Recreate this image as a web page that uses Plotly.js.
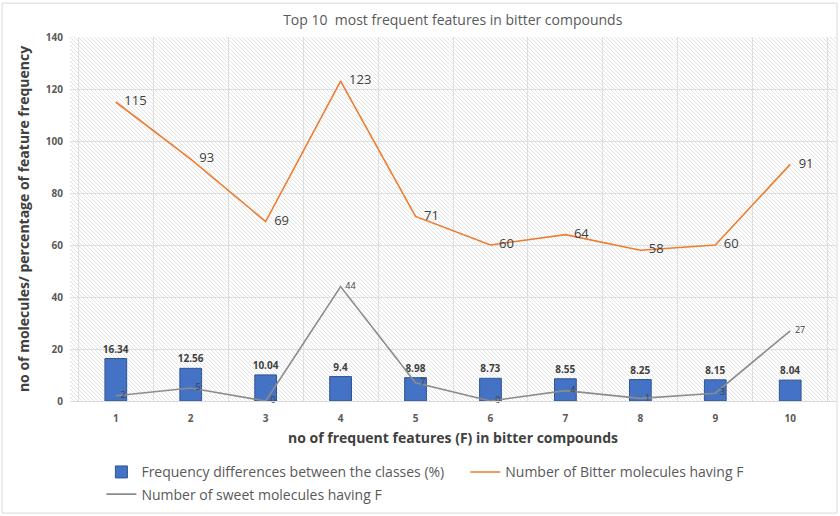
<!DOCTYPE html>
<html>
<head>
<meta charset="utf-8">
<script src="https://cdn.plot.ly/plotly-3.0.1.min.js"></script>
<style>
  body { margin: 0; background: #fff; }
  #chart { width: 840px; height: 516px; }
</style>
</head>
<body>
<div id="chart"></div>
<script>
// values
var features = ['1', '2', '3', '4', '5', '6', '7', '8', '9', '10'];
var freqDiff = [16.34, 12.56, 10.04, 9.4, 8.98, 8.73, 8.55, 8.25, 8.15, 8.04];
var bitterCount = [115, 93, 69, 123, 71, 60, 64, 58, 60, 91];
var sweetCount = [2, 5, 0, 44, 7, 0, 4, 1, 3, 27];
var yTicks = [0, 20, 40, 60, 80, 100, 120, 140];

var FONT = '"Open Sans", "Liberation Sans", sans-serif';

// hatched plot background, like the Excel pattern fill
var hatch = '<svg xmlns="http://www.w3.org/2000/svg" width="766" height="364">' +
  '<defs><pattern id="p" width="4" height="4" patternUnits="userSpaceOnUse">' +
  '<rect width="4" height="4" fill="#ffffff"/>' +
  '<path d="M-1,3 l2,2 M0,0 l4,4 M3,-1 l2,2" stroke="#e3e3e3" stroke-width="1"/>' +
  '</pattern></defs><rect width="766" height="364" fill="url(#p)"/></svg>';
var hatchUrl = 'data:image/svg+xml;base64,' + btoa(hatch);

var legendFont = { family: FONT, size: 14, color: '#595959' };

var data = [
  {
    type: 'bar',
    x: features,
    y: freqDiff,
    name: 'Frequency differences between the classes (%)',
    legend: 'legend',
    legendgroup: 'a',
    width: 0.29,
    marker: { color: '#4472c4', line: { color: '#2f5597', width: 1 } },
    text: freqDiff.map(String),
    textposition: 'outside',
    textangle: 0,
    constraintext: 'none',
    cliponaxis: false,
    textfont: { family: FONT, size: 10, color: '#404040', weight: 'bold' },
    hoverinfo: 'x+y'
  },
  {
    type: 'scatter',
    mode: 'lines+markers+text',
    x: features,
    y: bitterCount,
    name: 'Number of Bitter molecules having F',
    legend: 'legend2',
    line: { color: '#ed7d31', width: 1.6 },
    marker: { size: 12, color: 'rgba(0,0,0,0)' },
    text: bitterCount.map(String),
    textposition: 'middle right',
    cliponaxis: false,
    textfont: { family: FONT, size: 13, color: '#404040' }
  },
  {
    type: 'scatter',
    mode: 'lines+markers+text',
    x: features,
    y: sweetCount,
    name: 'Number of sweet molecules having F',
    legend: 'legend',
    legendgroup: 'b',
    line: { color: '#8c8c8c', width: 1.6 },
    marker: { size: 6, color: 'rgba(0,0,0,0)' },
    text: sweetCount.map(String),
    textposition: 'middle right',
    cliponaxis: false,
    textfont: { family: FONT, size: 9, color: '#404040' }
  }
];

var layout = {
  width: 840,
  height: 516,
  margin: { l: 70, r: 4, t: 37, b: 115 },
  paper_bgcolor: '#ffffff',
  plot_bgcolor: 'rgba(0,0,0,0)',
  font: { family: FONT, color: '#595959' },
  title: {
    text: 'Top 10  most frequent features in bitter compounds',
    font: { family: FONT, size: 14, color: '#595959' },
    x: 0.539, xanchor: 'center',
    y: 0.961, yanchor: 'middle'
  },
  showlegend: true,
  legend: {
    orientation: 'v',
    x: 0.041, xanchor: 'left',
    y: -0.152, yanchor: 'top',
    traceorder: 'grouped',
    tracegroupgap: 1,
    font: legendFont,
    bgcolor: 'rgba(0,0,0,0)'
  },
  legend2: {
    orientation: 'v',
    x: 0.516, xanchor: 'left',
    y: -0.152, yanchor: 'top',
    font: legendFont,
    bgcolor: 'rgba(0,0,0,0)'
  },
  xaxis: {
    type: 'category',
    tickson: 'boundaries',
    showgrid: true,
    gridcolor: '#dedede',
    gridwidth: 1,
    showline: true,
    linecolor: '#d9d9d9',
    ticks: '',
    zeroline: false,
    tickfont: { family: FONT, size: 10, color: '#595959', weight: 'bold' },
    ticklabelstandoff: 8,
    title: {
      text: 'no of frequent features (F) in bitter compounds',
      font: { family: FONT, size: 14, color: '#404040', weight: 'bold' },
      standoff: 9
    },
    automargin: false
  },
  yaxis: {
    range: [0, 140],
    tickvals: yTicks,
    showgrid: true,
    gridcolor: '#dedede',
    gridwidth: 1,
    zeroline: false,
    showline: false,
    ticks: '',
    tickfont: { family: FONT, size: 10, color: '#595959', weight: 'bold' },
    ticklabelstandoff: 6,
    title: {
      text: 'no of molecules/ percentage of feature frequency',
      font: { family: FONT, size: 14, color: '#404040', weight: 'bold' },
      standoff: 12
    },
    automargin: false
  },
  images: [{
    source: hatchUrl,
    xref: 'paper', yref: 'paper',
    x: 0, y: 1, sizex: 1, sizey: 1,
    xanchor: 'left', yanchor: 'top',
    sizing: 'stretch',
    layer: 'below'
  }],
  shapes: [{
    type: 'rect',
    xref: 'paper', yref: 'paper',
    x0: -0.0887, x1: 1.0013, y0: -0.308, y1: 1.093,
    line: { color: '#d9d9d9', width: 1 },
    fillcolor: 'rgba(0,0,0,0)',
    layer: 'below'
  }]
};

Plotly.newPlot('chart', data, layout, { displayModeBar: false, staticPlot: true });
</script>
</body>
</html>
